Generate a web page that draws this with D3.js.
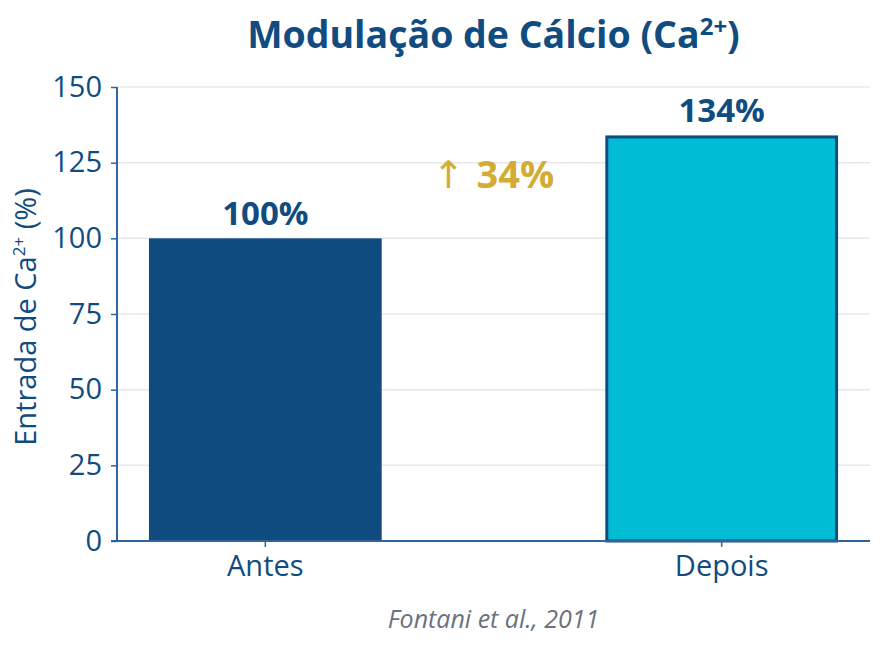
<!DOCTYPE html>
<html>
<head>
<meta charset="utf-8">
<script src="https://cdn.jsdelivr.net/npm/d3@7"></script>
<style>
	body { margin: 0; background: #fff; }
	text { font-family: "Open Sans", sans-serif; }
</style>
</head>
<body>
<div id="chart"></div>
<script>
var categories = ["Antes", "Depois"];
var values = [100, 134];
var valueLabels = ["100%", "134%"];
var yTicks = [0, 25, 50, 75, 100, 125, 150];
var changeLabel = "34%";

var w = 885,
	h = 650;
var margin = { top: 87, right: 15, bottom: 109, left: 117 };
var iw = w - margin.left - margin.right,
	ih = h - margin.top - margin.bottom;

var dark = "#114c80",
	cyan = "#00bcd4",
	gold = "#d4ab35",
	axisColor = "#2f659a";

var svg = d3.select("#chart").append("svg").attr("width", w).attr("height", h);
var g = svg.append("g").attr("transform", "translate(" + margin.left + "," + margin.top + ")");

var x = d3.scaleBand().domain(categories).range([0, iw]).paddingInner(0.49).paddingOuter(0.07);
var y = d3.scaleLinear().domain([0, 150]).range([ih, 0]);

// grid
g.append("g").selectAll("line").data(yTicks.slice(1)).enter().append("line")
	.attr("x1", 0).attr("x2", iw)
	.attr("y1", function(d) { return y(d); }).attr("y2", function(d) { return y(d); })
	.attr("stroke", "#e6e8eb").attr("stroke-width", 1.5);

// bars
g.selectAll(".bar").data(values).enter().append("rect")
	.attr("class", "bar")
	.attr("x", function(d, i) { return x(categories[i]) + (i === 1 ? 1.5 : 0); })
	.attr("width", function(d, i) { return x.bandwidth() - (i === 1 ? 3 : 0); })
	.attr("y", function(d, i) { return y(d) + (i === 1 ? 1.5 : 0); })
	.attr("height", function(d, i) { return ih - y(d) - (i === 1 ? 1.5 : 0); })
	.attr("fill", function(d, i) { return i === 0 ? dark : cyan; })
	.attr("stroke", function(d, i) { return i === 1 ? dark : "none"; })
	.attr("stroke-width", 3);

// value labels
g.selectAll(".vl").data(values).enter().append("text")
	.attr("class", "vl")
	.attr("x", function(d, i) { return x(categories[i]) + x.bandwidth() / 2; })
	.attr("y", function(d) { return y(d) - 13; })
	.attr("text-anchor", "middle")
	.attr("fill", dark).attr("font-size", 33).attr("font-weight", 700)
	.text(function(d, i) { return valueLabels[i]; });

// change annotation
var ann = g.append("text")
	.attr("x", (x(categories[0]) + x(categories[1]) + x.bandwidth()) / 2)
	.attr("y", y(116.5))
	.attr("text-anchor", "middle")
	.attr("fill", gold).attr("font-size", 38).attr("font-weight", 700);
ann.append("tspan").attr("font-family", "DejaVu Sans").attr("font-weight", 400).text("↑ ");
ann.append("tspan").text(changeLabel);

// axes
var yAxis = g.append("g").call(d3.axisLeft(y).tickValues(yTicks).tickSize(6).tickPadding(9));
var xAxis = g.append("g").attr("transform", "translate(0," + ih + ")")
	.call(d3.axisBottom(x).tickSize(6).tickSizeOuter(0).tickPadding(8));
[yAxis, xAxis].forEach(function(a) {
	a.select(".domain").attr("stroke", axisColor).attr("stroke-width", 2);
	a.selectAll(".tick line").attr("stroke", axisColor).attr("stroke-width", 1.5);
	a.selectAll(".tick text").attr("fill", dark).attr("font-size", 29).attr("font-family", "Open Sans, sans-serif");
});
xAxis.select(".domain").attr("d", "M-6,0H" + iw);
yAxis.select(".domain").attr("d", "M0,0V" + ih);

// title
var title = svg.append("text")
	.attr("x", margin.left + iw / 2).attr("y", 48)
	.attr("text-anchor", "middle")
	.attr("fill", dark).attr("font-size", 37.5).attr("font-weight", 700);
title.append("tspan").text("Modulação de Cálcio (Ca");
title.append("tspan").attr("font-size", 24).attr("dy", -13).text("2+");
title.append("tspan").attr("dy", 13).text(")");

// y label
var yl = svg.append("text")
	.attr("transform", "translate(36," + (margin.top + ih / 2 + 3) + ") rotate(-90)")
	.attr("text-anchor", "middle")
	.attr("fill", dark).attr("font-size", 29);
yl.append("tspan").text("Entrada de Ca");
yl.append("tspan").attr("font-size", 17).attr("dy", -11).text("2+");
yl.append("tspan").attr("dy", 11).text(" (%)");

// source
svg.append("text")
	.attr("x", margin.left + iw / 2).attr("y", 628)
	.attr("text-anchor", "middle")
	.attr("fill", "#6b7280").attr("font-size", 25).attr("font-style", "italic")
	.text("Fontani et al., 2011");
</script>
</body>
</html>
